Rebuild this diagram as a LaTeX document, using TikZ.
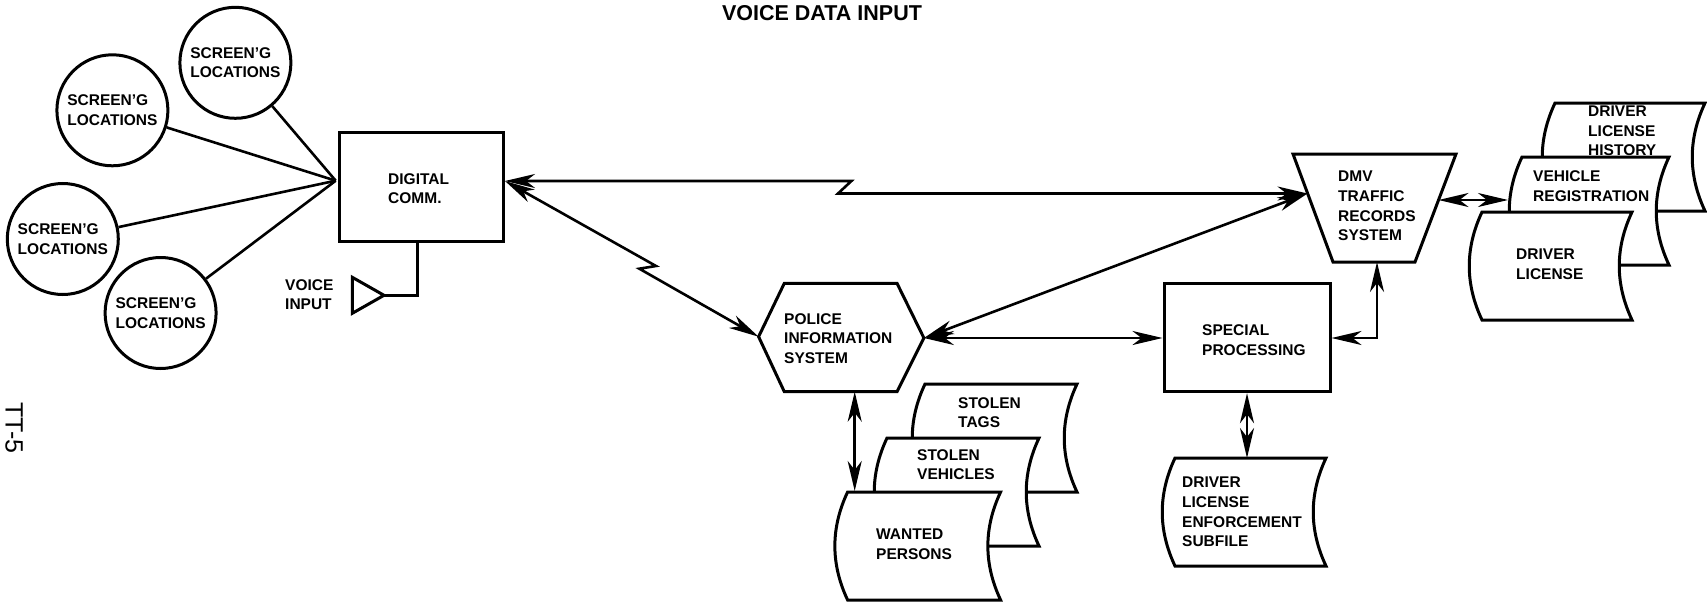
\documentclass[tikz,border=0pt]{standalone}
\usepackage{fontspec}
\setmainfont{Liberation Sans}
\usetikzlibrary{arrows.meta}

\tikzset{
  txt/.style={font=\fontsize{15.5}{19.6}\selectfont\bfseries, align=left, inner sep=0pt},
  loc/.style={txt, draw, circle, line width=3pt, minimum size=111},
  block/.style={draw, line width=3pt, inner sep=0pt},
  outline/.style={line width=3pt, line join=miter},
  sheet/.style={line width=3pt, fill=white},
  wire/.style={line width=2.6pt},
  link/.style={line width=2.6pt, <->, >={Stealth[length=30pt,width=14pt,inset=9pt]}}
}

\begin{document}
\begin{tikzpicture}[x=1pt, y=-1pt]
  \useasboundingbox (0,0) rectangle (1707,602);

%vertices
  \coordinate (fan) at (335.7,180.7);
  \coordinate (digE) at (505,181);
  \coordinate (micA) at (352.3,277.3);
  \coordinate (micB) at (352.3,313.3);
  \coordinate (micC) at (384,295.3);
  \coordinate (polW) at (758.6,336.7);
  \coordinate (polNW) at (784.3,283.3);
  \coordinate (polNE) at (897,283.3);
  \coordinate (polE) at (923.9,338);
  \coordinate (polSE) at (897,391.7);
  \coordinate (polSW) at (784.3,391.7);
  \coordinate (polS) at (854.7,391.7);
  \coordinate (dmvNW) at (1293,154);
  \coordinate (dmvNE) at (1456,154);
  \coordinate (dmvSE) at (1415,262);
  \coordinate (dmvSW) at (1333,262);
  \coordinate (dmvW) at (1307.5,193.5);
  \coordinate (dmvE) at (1438.5,200);
  \coordinate (dmvS) at (1377,262);
  \coordinate (regW) at (1508,200);
  \coordinate (wantN) at (854.7,491);
  \coordinate (subN) at (1247,458);

%screening sites
  \foreach \n/\x/\y in {scrA/235.4/62.8, scrB/112.4/110.3, scrC/62.8/239, scrD/160.6/313}{
    \node[loc] (\n) at (\x,\y) {SCREEN'G\\LOCATIONS};
    \draw[wire] (\n) -- (fan);
  }

%boxes
  \node[block, minimum width=164.5, minimum height=109] (dig) at (421.3,186.5) {};
  \node[block, minimum width=166, minimum height=108.4] (spc) at (1247,337.5) {};
  \draw[outline] (micA) -- (micB) -- (micC) -- cycle;
  \draw[outline] (polW) -- (polNW) -- (polNE) -- (polE) -- (polSE) -- (polSW) -- cycle;
  \draw[outline] (dmvNW) -- (dmvNE) -- (dmvSE) -- (dmvSW) -- cycle;

%files
  \foreach \x/\y/\w in {1555/103/150, 1522/157/147, 1482/212/150, 925/384/152, 887/438/152, 847.6/492/153, 1175/458/151}{
    \begin{scope}[shift={(\x,\y)}]
      \draw[sheet] (0,0) .. controls (-17,36) and (-17,72) .. (0,108) -- (\w,108)
        .. controls (\w-17,72) and (\w-17,36) .. (\w,0) -- cycle;
    \end{scope}
  }

%labels
  \node[txt, font=\fontsize{21.5}{24}\selectfont\bfseries] (title) at (822,13) {VOICE DATA INPUT};
  \node[font=\fontsize{25}{30}\selectfont, rotate=-90, inner sep=0pt] (page) at (14,428) {TT-5};
  \node[txt, anchor=west] (digT) at (388,188.5) {DIGITAL\\COMM.};
  \node[txt, anchor=west] (spcT) at (1202,340) {SPECIAL\\PROCESSING};
  \node[txt, anchor=west] (voice) at (285,294.5) {VOICE\\INPUT};
  \node[txt, anchor=west] (pol) at (784,338.5) {POLICE\\INFORMATION\\SYSTEM};
  \node[txt, anchor=west] (dmv) at (1338,206) {DMV\\TRAFFIC\\RECORDS\\SYSTEM};
  \node[txt, anchor=west] (hist) at (1588,131) {DRIVER\\LICENSE\\HISTORY};
  \node[txt, anchor=west] (reg) at (1533,186) {VEHICLE\\REGISTRATION};
  \node[txt, anchor=west] (lic) at (1516,264.5) {DRIVER\\LICENSE};
  \node[txt, anchor=west] (tags) at (958,412.5) {STOLEN\\TAGS};
  \node[txt, anchor=west] (veh) at (917,464.5) {STOLEN\\VEHICLES};
  \node[txt, anchor=west] (want) at (876,544.5) {WANTED\\PERSONS};
  \node[txt, anchor=west] (sub) at (1182,512) {DRIVER\\LICENSE\\ENFORCEMENT\\SUBFILE};

%connectors
  \draw[wire] (dig.south -| 417.7,0) |- (micC);
  \draw[link] (digE) -- (851.4,181) -- (838,193.5) -- (dmvW);
  \draw[link] (digE) -- (656,266) -- (639.3,268.7) -- (polW);
  \draw[link] (polE) -- (dmvW);
  \draw[link] (polE) -- (spc.west |- polE);
  \draw[link] (polS) -- (wantN);
  \draw[link] (spc.south -| subN) -- (subN);
  \draw[link] (dmvS) |- (spc.east |- polE);
  \draw[link] (dmvE) -- (regW);
\end{tikzpicture}
\end{document}
